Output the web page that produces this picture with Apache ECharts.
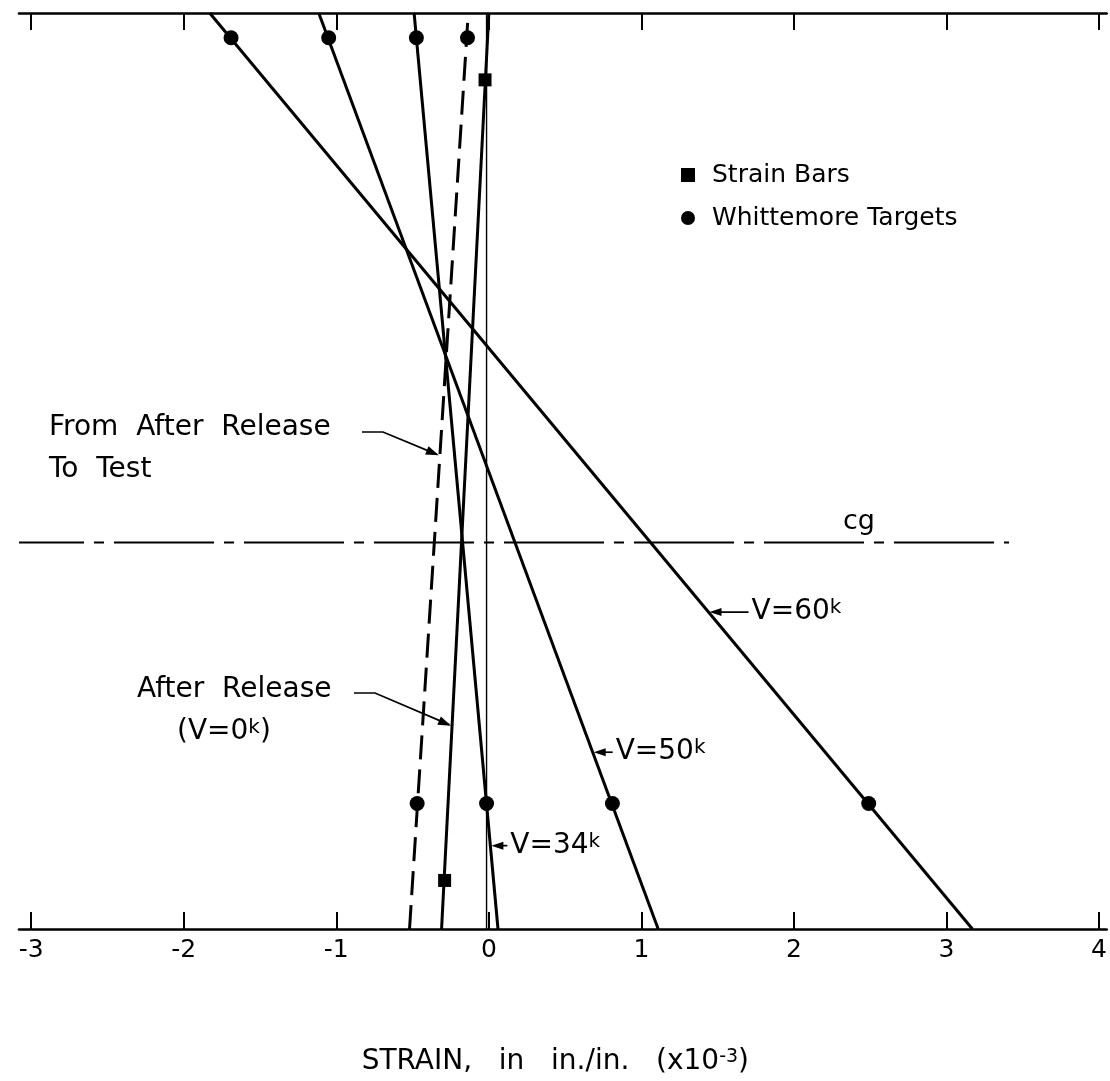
<!DOCTYPE html>
<html><head><meta charset="utf-8">
<script src="https://cdn.jsdelivr.net/npm/echarts@6/dist/echarts.min.js"></script>
<style>html,body{margin:0;padding:0;background:#fff}#c{width:1110px;height:1081px}</style>
</head><body><div id="c"></div>
<script>
// ---- data (strain in 10^-3 in./in.; depth: 0 = bottom edge, 100 = top edge) ----
const strainTicks = [-3, -2, -1, 0, 1, 2, 3, 4];
const targetDepths = [97.3, 13.7];     // Whittemore target rows (top, bottom)
const barDepths = [92.7, 5.3];         // strain bar rows (top, bottom)
const cgDepth = 42.2;
const cgSpan = [-3.08, 3.41];
// Whittemore readings [top row, bottom row]
const wTest = [-0.14, -0.47];
const wV34 = [-0.475, -0.015];
const wV50 = [-1.05, 0.81];
const wV60 = [-1.69, 2.49];
// Strain bar readings [top row, bottom row]
const sbV0 = [-0.025, -0.29];
// Strain distribution lines: strain at depth 0 and depth 100
const lineDepths = [0, 100];
const lineTest = [-0.52, -0.135];
const lineV0 = [-0.31, 0.0];
const lineV34 = [0.06, -0.49];
const lineV50 = [1.11, -1.115];
const lineV60 = [3.17, -1.83];
const refLine = [-0.015, -0.015];

const FONT = '"DejaVu Sans", sans-serif';
const K = '#000';

const chart = echarts.init(document.getElementById('c'), null, {renderer: 'canvas'});

function lineData(xs) { return lineDepths.map((d, i) => [xs[i], d]); }
function rowPoints(readings, depths) { return readings.map((x, i) => [x, depths[i]]); }

const targets = [].concat(rowPoints(wV60, targetDepths), rowPoints(wV50, targetDepths),
  rowPoints(wV34, targetDepths), rowPoints(wTest, targetDepths));
const bars = rowPoints(sbV0, barDepths);

function lineSeries(name, xs, width, type) {
  return {
    name: name, type: 'line', data: lineData(xs), symbol: 'none', silent: true, z: 3,
    lineStyle: {color: K, width: width, type: type || 'solid', opacity: 1}, emphasis: {disabled: true}
  };
}

const axisCommon = {
  type: 'value', min: -3.08, max: 4.05,
  axisLine: {show: true, onZero: false, lineStyle: {color: K, width: 2.6}},
  axisTick: {show: true, inside: true, length: 17, customValues: strainTicks, lineStyle: {color: K, width: 2}},
  splitLine: {show: false}
};

const option = {
  animation: false,
  backgroundColor: '#fff',
  grid: {left: 19, right: 0, top: 13, bottom: 149, containLabel: false},
  xAxis: [
    Object.assign({}, axisCommon, {
      position: 'bottom',
      axisLabel: {show: true, customValues: strainTicks, margin: 9, color: K, fontSize: 25, fontFamily: FONT,
        formatter: v => String(v)},
      name: '{t|STRAIN,   in   in./in.   (x10}{s|-3}{t|)}',
      nameLocation: 'middle', nameGap: 119,
      nameTextStyle: {padding: [0, 15, 0, 0], rich: {
        t: {fontSize: 28, fontFamily: FONT, color: K},
        s: {fontSize: 19, fontFamily: FONT, color: K, verticalAlign: 'top'}
      }}
    }),
    Object.assign({}, axisCommon, {position: 'top', axisLabel: {show: false}})
  ],
  yAxis: {type: 'value', min: 0, max: 100, show: false},
  legend: {
    show: true, orient: 'vertical', left: 676, top: 155, itemWidth: 14, itemHeight: 14, itemGap: 13,
    selectedMode: false,
    itemStyle: {color: K, opacity: 1, borderWidth: 0},
    textStyle: {fontSize: 25, fontFamily: FONT, color: K, padding: [0, 0, 0, 12], lineHeight: 30},
    data: [{name: 'Strain Bars', icon: 'rect'}, {name: 'Whittemore Targets', icon: 'circle'}]
  },
  series: [
    lineSeries('ref', refLine, 1.4),
    lineSeries('test', lineTest, 3, [24, 10]),
    lineSeries('v0', lineV0, 3),
    lineSeries('v34', lineV34, 3),
    lineSeries('v50', lineV50, 3),
    lineSeries('v60', lineV60, 3),
    {
      name: 'cg', type: 'line', symbol: 'none', silent: true, z: 2,
      data: cgSpan.map(x => [x, cgDepth]),
      lineStyle: {color: K, width: 2, opacity: 1, type: [100, 10, 10, 10], dashOffset: 35}
    },
    {
      name: 'Whittemore Targets', type: 'scatter', symbol: 'circle', symbolSize: 15, z: 6,
      data: targets, itemStyle: {color: K, opacity: 1}, silent: true
    },
    {
      name: 'Strain Bars', type: 'scatter', symbol: 'rect', symbolSize: 13, z: 6,
      data: bars, itemStyle: {color: K, opacity: 1}, silent: true
    }
  ]
};
chart.setOption(option);

// ---- annotations ----
function xOnLine(xs, depth) {
  return xs[0] + (xs[1] - xs[0]) * (depth - lineDepths[0]) / (lineDepths[1] - lineDepths[0]);
}
function toPx(x, d) { return chart.convertToPixel({xAxisIndex: 0, yAxisIndex: 0}, [x, d]); }
function tipOn(xs, depth) { return toPx(xOnLine(xs, depth), depth); }

function arrowHead(tip, from, L, h) {
  const dx = tip[0] - from[0], dy = tip[1] - from[1];
  const n = Math.hypot(dx, dy); const ux = dx / n, uy = dy / n;
  const bx = tip[0] - ux * L, by = tip[1] - uy * L;
  return {type: 'polygon', silent: true, z: 10,
    shape: {points: [tip, [bx - uy * h, by + ux * h], [bx + uy * h, by - ux * h]]},
    style: {fill: K}};
}
function leader(points) {
  return {type: 'polyline', silent: true, z: 10, shape: {points: points},
    style: {stroke: K, lineWidth: 1.7, fill: null}};
}
const richV = {
  a: {fontSize: 28, fontFamily: FONT, fill: K},
  k: {fontSize: 20, fontFamily: FONT, fill: K, verticalAlign: 'top'}
};
function txt(text, x, y, rich, size) {
  const st = {text: text, x: x, y: y, verticalAlign: 'middle', align: 'left', fill: K,
    font: (size || 28) + 'px ' + FONT};
  if (rich) st.rich = rich;
  return {type: 'text', silent: true, z: 10, style: st};
}
function vLabel(label, xs, depth, len) {
  const tip = tipOn(xs, depth);
  const tail = [tip[0] + len, tip[1]];
  return [
    leader([tail, [tip[0] + 6, tip[1]]]),
    arrowHead([tip[0] + 1, tip[1]], tail, 12, 4),
    txt('{a|V=' + label + '}{k|k}', tail[0] + 3, tip[1], richV)
  ];
}

const tipTest = tipOn(lineTest, 51.6);
const tipV0 = tipOn(lineV0, 22.2);
const cgPt = toPx(2.4, cgDepth);

const g = [];
g.push(txt('From  After  Release', 49, 428));
g.push(txt('To  Test', 49, 470));
g.push(leader([[362, 432], [383, 432], [tipTest[0] - 3, tipTest[1] - 2]]));
g.push(arrowHead([tipTest[0] - 1, tipTest[1] - 1], [383, 432], 13, 4.5));
g.push(txt('After  Release', 137, 690));
g.push(txt('{a|(V=0}{k|k}{a|)}', 177, 732, richV));
g.push(leader([[354, 693], [375, 693], [tipV0[0] - 3, tipV0[1] - 1]]));
g.push(arrowHead([tipV0[0] - 1, tipV0[1]], [375, 693], 13, 4.5));
g.push(txt('cg', 843, cgPt[1] - 20, null, 27));
vLabel('60', lineV60, 34.6, 40).forEach(e => g.push(e));
vLabel('50', lineV50, 19.3, 20).forEach(e => g.push(e));
vLabel('34', lineV34, 9.1, 17).forEach(e => g.push(e));

chart.setOption({graphic: g});
</script>
</body></html>
